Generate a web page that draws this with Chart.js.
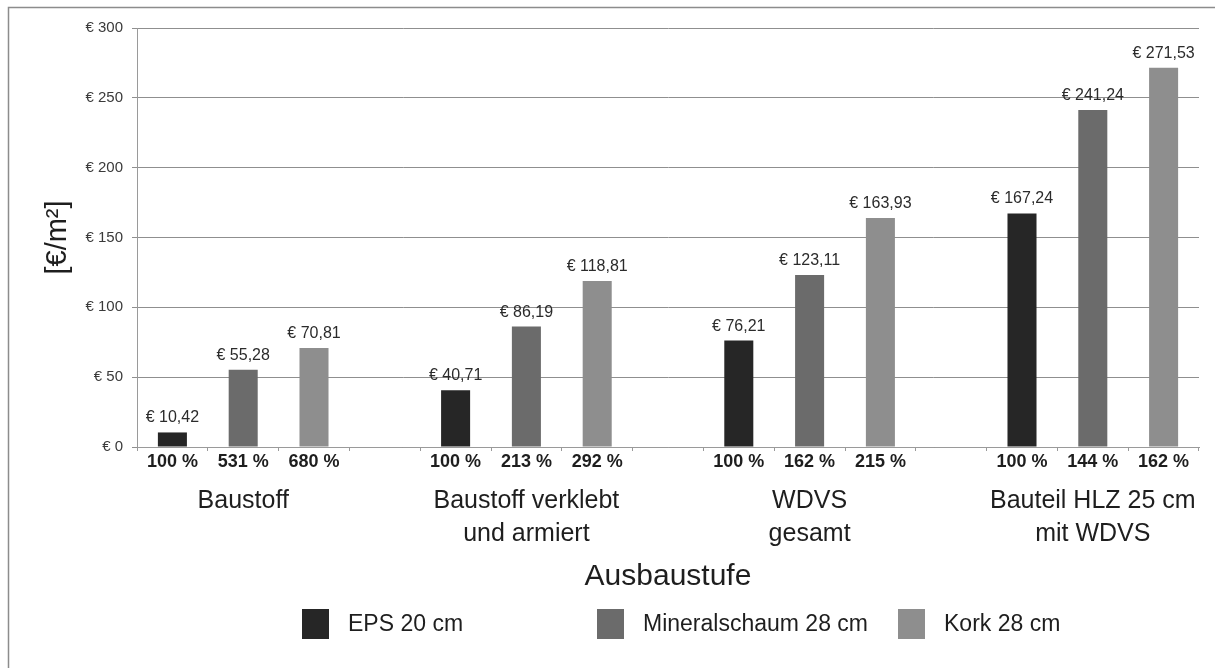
<!DOCTYPE html>
<html>
<head>
<meta charset="utf-8">
<title>Kosten je Ausbaustufe</title>
<script src="https://cdn.jsdelivr.net/npm/chart.js@4/dist/chart.umd.min.js"></script>
<style>
	html, body { margin: 0; padding: 0; background: #fff; }
	#wrap { width: 1215px; height: 668px; }
</style>
</head>
<body>
<div id="wrap"><canvas id="kosten-chartcanvas" width="1215" height="668"></canvas></div>
<script>
"use strict";

// chart values, one entry per Ausbaustufe
var groups = [["Baustoff"], ["Baustoff verklebt", "und armiert"], ["WDVS", "gesamt"], ["Bauteil HLZ 25 cm", "mit WDVS"]];
var seriesNames = ["EPS 20 cm", "Mineralschaum 28 cm", "Kork 28 cm"];
var seriesColors = ["#262626", "#6b6b6b", "#8e8e8e"];
var epsCost = [10.42, 40.71, 76.21, 167.24];
var mineralCost = [55.28, 86.19, 123.11, 241.24];
var korkCost = [70.81, 118.81, 163.93, 271.53];
var epsPercent = [100, 100, 100, 100];
var mineralPercent = [531, 213, 162, 144];
var korkPercent = [680, 292, 215, 162];
var yTicks = [0, 50, 100, 150, 200, 250, 300];

var FONT = "'Liberation Sans', Arial, sans-serif";

// every group gets 3 slots (one per material) plus an empty slot between groups
var costs = [epsCost, mineralCost, korkCost];
var percents = [epsPercent, mineralPercent, korkPercent];
var slotLabels = [];
var groupSlot = [];
var slotData = [[], [], []];
var g, s, k;
for (g = 0; g < groups.length; g++) {
	if (g > 0) {
		slotLabels.push("");
		for (k = 0; k < 3; k++) { slotData[k].push(null); }
	}
	for (s = 0; s < 3; s++) {
		slotLabels.push(percents[s][g] + " %");
		for (k = 0; k < 3; k++) { slotData[k].push(k === s ? costs[s][g] : null); }
		if (s === 1) { groupSlot.push(slotLabels.length - 1); }
	}
}

var datasets = [];
for (s = 0; s < 3; s++) {
	datasets.push({
		label : seriesNames[s],
		data : slotData[s],
		backgroundColor : seriesColors[s],
		borderWidth : 0,
		skipNull : true,
		categoryPercentage : 1,
		barPercentage : 0.41
	});
}

function euro(v) {
	return "\u20ac " + v.toFixed(2).replace(".", ",");
}

// gray frame round the picture
var framePlugin = {
	id : "frame",
	beforeDraw : function(chart) {
		var ctx = chart.ctx;
		ctx.save();
		ctx.strokeStyle = "#8c8c8c";
		ctx.lineWidth = 1.5;
		ctx.beginPath();
		ctx.moveTo(8.5, chart.height);
		ctx.lineTo(8.5, 7.5);
		ctx.lineTo(chart.width, 7.5);
		ctx.stroke();
		ctx.restore();
	}
};

// "€ xx,xx" above every bar
var valuePlugin = {
	id : "valueLabels",
	afterDatasetsDraw : function(chart) {
		var ctx = chart.ctx;
		ctx.save();
		ctx.font = "16px " + FONT;
		ctx.fillStyle = "#2b2b2b";
		ctx.textAlign = "center";
		ctx.textBaseline = "alphabetic";
		chart.data.datasets.forEach(function(ds, i) {
			var meta = chart.getDatasetMeta(i);
			meta.data.forEach(function(bar, j) {
				if (ds.data[j] === null) { return; }
				ctx.fillText(euro(ds.data[j]), bar.x, bar.y - 10);
			});
		});
		ctx.restore();
	}
};

// group names, axis titles and legend
var textPlugin = {
	id : "extraText",
	afterDraw : function(chart) {
		var ctx = chart.ctx;
		var xs = chart.scales.x;
		var area = chart.chartArea;
		ctx.save();
		ctx.fillStyle = "#1e1e1e";
		ctx.textAlign = "center";
		ctx.textBaseline = "alphabetic";

		// group names under the percent row
		ctx.font = "25px " + FONT;
		groups.forEach(function(lines, i) {
			var x = xs.getPixelForValue(groupSlot[i]);
			lines.forEach(function(line, n) {
				ctx.fillText(line, x, 508 + n * 33);
			});
		});

		// x title
		ctx.font = "30px " + FONT;
		ctx.fillText("Ausbaustufe", (area.left + area.right) / 2, 585);

		// y title
		ctx.save();
		ctx.translate(58, (area.top + area.bottom) / 2);
		ctx.rotate(-Math.PI / 2);
		ctx.font = "29px " + FONT;
		ctx.textBaseline = "middle";
		ctx.fillText("[\u20ac/m\u00b2]", 0, 0);
		ctx.restore();

		// legend
		var legendX = [302, 597, 898];
		ctx.font = "23px " + FONT;
		ctx.textAlign = "left";
		ctx.textBaseline = "middle";
		seriesNames.forEach(function(name, i) {
			ctx.fillStyle = seriesColors[i];
			ctx.fillRect(legendX[i], 609, 27, 30);
			ctx.fillStyle = "#1e1e1e";
			ctx.fillText(name, legendX[i] + 46, 625);
		});
		ctx.restore();
	}
};

var ctx = document.getElementById("kosten-chartcanvas");
var kostenChart = new Chart(ctx, {
	type : "bar",
	data : {
		labels : slotLabels,
		datasets : datasets
	},
	options : {
		responsive : false,
		animation : false,
		layout : {
			padding : { left : 0, top : 28, right : 16, bottom : 0 }
		},
		plugins : {
			legend : { display : false },
			tooltip : { enabled : false }
		},
		scales : {
			x : {
				offset : true,
				grid : {
					offset : true,
					drawOnChartArea : false,
					color : "#9a9a9a",
					tickLength : 4
				},
				border : { color : "#9a9a9a" },
				ticks : {
					autoSkip : false,
					maxRotation : 0,
					padding : 0,
					color : "#1e1e1e",
					font : { family : FONT, size : 18, weight : "bold" }
				},
				afterFit : function(scale) { scale.height = 221; }
			},
			y : {
				min : yTicks[0],
				max : yTicks[yTicks.length - 1],
				ticks : {
					stepSize : yTicks[1] - yTicks[0],
					padding : 9,
					color : "#3a3a3a",
					font : { family : FONT, size : 15 },
					callback : function(v) { return "\u20ac " + v; }
				},
				grid : {
					color : "#8f8f8f",
					tickLength : 5
				},
				border : { color : "#9a9a9a" },
				afterFit : function(scale) { scale.width = 137; }
			}
		}
	},
	plugins : [framePlugin, valuePlugin, textPlugin]
});
</script>
</body>
</html>
